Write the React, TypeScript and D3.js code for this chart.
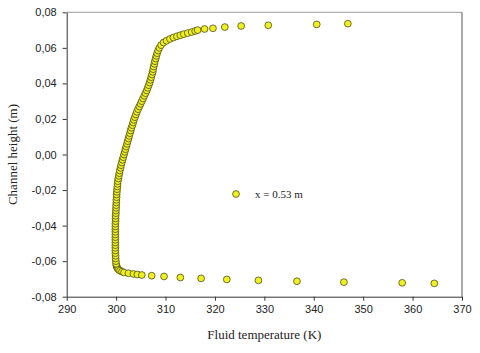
import React, { useEffect, useRef } from "react";
import * as d3 from "d3";

// fluid temperature (K) along the channel height (m), x = 0.53 m
const bottomWall: [number, number][] = [
  [364.4, -0.0725], [357.9, -0.0722], [346.1, -0.0718], [336.6, -0.0713],
  [328.8, -0.0708], [322.4, -0.0703], [317.2, -0.0697], [313.0, -0.0692],
  [309.7, -0.0686], [307.2, -0.0682], [305.2, -0.0678], [304.3, -0.0675],
  [303.5, -0.0672], [302.5, -0.0668], [301.6, -0.0664], [301.2, -0.0659],
  [300.8, -0.0654], [300.5, -0.0648], [300.3, -0.0641], [300.15, -0.0633],
  [300.05, -0.0625],
];

const core: [number, number][] = [
  [300.0, -0.0615], [299.95, -0.06], [299.9, -0.0585], [299.9, -0.057],
  [299.85, -0.0555], [299.85, -0.054], [299.85, -0.0525], [299.85, -0.051],
  [299.85, -0.0495], [299.85, -0.048], [299.85, -0.0465], [299.85, -0.045],
  [299.85, -0.0435], [299.85, -0.042], [299.85, -0.0405], [299.85, -0.039],
  [299.9, -0.0375], [299.9, -0.036], [299.9, -0.0345], [299.95, -0.033],
  [299.95, -0.0315], [300.0, -0.03], [300.0, -0.0285], [300.05, -0.027],
  [300.05, -0.0255], [300.1, -0.024], [300.1, -0.0225], [300.15, -0.021],
  [300.2, -0.0195], [300.25, -0.018], [300.3, -0.0165], [300.35, -0.015],
  [300.45, -0.0135], [300.55, -0.012], [300.65, -0.0105], [300.75, -0.009],
  [300.9, -0.0075], [301.0, -0.006], [301.15, -0.0045], [301.3, -0.003],
  [301.45, -0.0015], [301.6, 0.0], [301.75, 0.0015], [301.9, 0.003],
  [302.05, 0.0045], [302.2, 0.006], [302.35, 0.0075], [302.5, 0.009],
  [302.65, 0.0105], [302.8, 0.012], [302.95, 0.0135], [303.1, 0.015],
  [303.3, 0.0165], [303.45, 0.018], [303.6, 0.0195], [303.8, 0.021],
  [304.0, 0.0225], [304.2, 0.024], [304.45, 0.0255], [304.7, 0.027],
  [304.95, 0.0285], [305.2, 0.03], [305.45, 0.0315], [305.7, 0.033],
  [305.95, 0.0345], [306.2, 0.036], [306.4, 0.0375], [306.6, 0.039],
  [306.8, 0.0405], [306.95, 0.042], [307.1, 0.0435], [307.25, 0.045],
  [307.4, 0.0465], [307.5, 0.048], [307.6, 0.0495], [307.75, 0.051],
  [307.85, 0.0525], [308.0, 0.054], [308.15, 0.0555], [308.3, 0.057],
  [308.5, 0.0585], [308.75, 0.06], [309.1, 0.0615], [309.6, 0.063],
];

const topWall: [number, number][] = [
  [310.2, 0.064], [310.9, 0.065], [311.6, 0.0658], [312.3, 0.0665],
  [313.0, 0.0671], [313.7, 0.0677], [314.5, 0.0683], [315.3, 0.0689],
  [316.0, 0.0695], [316.5, 0.07], [317.9, 0.0706], [319.6, 0.071],
  [322.0, 0.0717], [325.3, 0.0723], [330.8, 0.0727], [340.6, 0.0732],
  [346.9, 0.0736],
];

const xTicks = [290, 300, 310, 320, 330, 340, 350, 360, 370];
const yTicks = [-0.08, -0.06, -0.04, -0.02, 0.0, 0.02, 0.04, 0.06, 0.08];
const legendLabel = "x = 0.53 m";

const ChannelProfile = () => {
  const svgRef = useRef<SVGSVGElement | null>(null);

  useEffect(() => {
    d3.select(svgRef.current).selectAll("*").remove();

    const width = 480;
    const height = 353;
    const left = 66.7, right = 462, top = 12.3, bottom = 296.7;

    const svg = d3.select(svgRef.current).attr("width", width).attr("height", height);
    svg.append("rect").attr("width", width).attr("height", height).attr("fill", "#ffffff");

    const x = d3.scaleLinear().domain([290, 370]).range([left, right]);
    const y = d3.scaleLinear().domain([-0.08, 0.08]).range([bottom, top]);

    // frame: top + right lighter
    svg.append("line").attr("x1", left).attr("x2", right).attr("y1", top).attr("y2", top)
      .attr("stroke", "#9a9a9a").attr("stroke-width", 1);
    svg.append("line").attr("x1", right).attr("x2", right).attr("y1", top).attr("y2", bottom)
      .attr("stroke", "#555").attr("stroke-width", 1);

    const tickFont = "Arial, 'Liberation Sans', sans-serif";

    const xAxis = svg.append("g").attr("transform", `translate(0,${bottom})`)
      .call(d3.axisBottom(x).tickValues(xTicks).tickSize(4).tickSizeOuter(0).tickPadding(5));
    const yAxis = svg.append("g").attr("transform", `translate(${left},0)`)
      .call(d3.axisLeft(y).tickValues(yTicks).tickSize(4).tickSizeOuter(0).tickPadding(6)
        .tickFormat((d) => d3.format(".2f")(+d).replace(".", ",").replace("−", "-")));

    [xAxis, yAxis].forEach((g) => {
      g.select(".domain").attr("stroke", "#333");
      g.selectAll(".tick line").attr("stroke", "#333");
      g.selectAll("text").attr("fill", "#222").style("font-size", "11px").style("font-family", tickFont);
    });

    const points = [...bottomWall.slice().reverse(), ...core, ...topWall];

    svg.append("g")
      .selectAll("circle")
      .data(points)
      .enter()
      .append("circle")
      .attr("cx", (d) => x(d[0]))
      .attr("cy", (d) => y(d[1]))
      .attr("r", 3.4)
      .attr("fill", "#f0f020")
      .attr("stroke", "#3a3a10")
      .attr("stroke-width", 0.7);

    // legend
    svg.append("circle").attr("cx", 236).attr("cy", 194).attr("r", 3.4)
      .attr("fill", "#f0f020").attr("stroke", "#3a3a10").attr("stroke-width", 0.7);
    svg.append("text").attr("x", 255).attr("y", 198)
      .attr("fill", "#222").style("font-size", "11px")
      .style("font-family", "'Liberation Serif', 'Times New Roman', serif")
      .text(legendLabel);

    // axis titles
    svg.append("text")
      .attr("x", (left + right) / 2).attr("y", 339)
      .attr("text-anchor", "middle").attr("fill", "#222")
      .style("font-size", "13px")
      .style("font-family", "'Liberation Serif', 'Times New Roman', serif")
      .text("Fluid temperature (K)");

    svg.append("text")
      .attr("transform", `translate(17,${(top + bottom) / 2}) rotate(-90)`)
      .attr("text-anchor", "middle").attr("fill", "#222")
      .style("font-size", "13px")
      .style("font-family", "'Liberation Serif', 'Times New Roman', serif")
      .text("Channel height (m)");
  }, []);

  return <svg ref={svgRef} style={{ position: "absolute", left: 0, top: 0, display: "block" }}></svg>;
};

export default function App() {
  return <ChannelProfile />;
}
